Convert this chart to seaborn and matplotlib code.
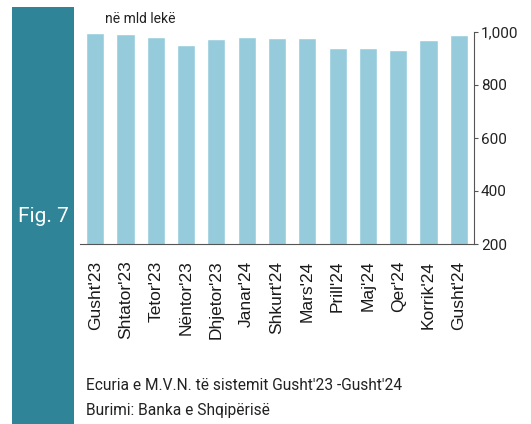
import matplotlib
matplotlib.use('Agg')
import matplotlib.pyplot as plt
import matplotlib.patches as mpatches
import numpy as np
import pandas as pd
import seaborn as sns

# Data (M.V.N. e sistemit, në mld lekë)
months = ["Gusht'23", "Shtator'23", "Tetor'23", "Nëntor'23", "Dhjetor'23", "Janar'24",
          "Shkurt'24", "Mars'24", "Prill'24", "Maj'24", "Qer'24", "Korrik'24", "Gusht'24"]
values = [997, 993, 981, 951, 975, 981, 977, 977, 940, 940, 932, 970, 990]
y_ticks = [200, 400, 600, 800, 1000]

sns.set_theme(style='white')
narrow = ['Roboto', 'DejaVu Sans']
plt.rcParams['font.family'] = ['Liberation Sans', 'DejaVu Sans']

fig = plt.figure(figsize=(5.31, 4.24), dpi=100, facecolor='white')

# teal side band
fig.patches.append(mpatches.Rectangle((12 / 531, 0), 62 / 531, 417 / 424,
                                      transform=fig.transFigure, facecolor='#2f8597',
                                      edgecolor='none', zorder=0))
fig.text(43 / 531, 1 - 216 / 424, 'Fig. 7', color='white', fontsize=15,
         family=narrow, ha='center', va='center')

ax = fig.add_axes([80 / 531, 180 / 424, 394 / 531, 212 / 424])
df = pd.DataFrame({'month': months, 'value': values})
sns.barplot(data=df, x='month', y='value', color='#96cbdc', saturation=1,
            width=0.6, ax=ax)

ax.set_ylim(200, 1000)
ax.set_xlim(-0.5, len(months) - 0.5)
ax.set_xlabel('')
ax.set_ylabel('')

# y axis on the right
ax.yaxis.tick_right()
ax.set_yticks(y_ticks)
ax.set_yticklabels([f'{v:,}' for v in y_ticks], family=narrow, fontsize=11, color='#222222')
ax.tick_params(axis='y', direction='out', length=3, width=0.8, color='#555555', pad=2)

# x labels at bar centres, ticks between bars
ax.set_xticks(range(len(months)))
ax.set_xticklabels(months, rotation=90, fontsize=12.5, color='#1a1a1a')
ax.tick_params(axis='x', length=0, pad=12)
ax.set_xticks(np.arange(-0.5, len(months)), minor=True)
ax.tick_params(axis='x', which='minor', direction='out', length=4, width=0.8, color='#555555')

for side in ['top', 'left']:
    ax.spines[side].set_visible(False)
for side in ['right', 'bottom']:
    ax.spines[side].set_color('#555555')
    ax.spines[side].set_linewidth(0.8)

fig.text(105 / 531, 1 - 19 / 424, 'në mld lekë', fontsize=10, family=narrow,
         color='#222222', va='center')
fig.text(86 / 531, 1 - 385 / 424, "Ecuria e M.V.N. të sistemit Gusht'23 -Gusht'24",
         fontsize=11.2, family=narrow, color='#222222', va='center')
fig.text(86 / 531, 1 - 410 / 424, 'Burimi: Banka e Shqipërisë',
         fontsize=11.2, family=narrow, color='#222222', va='center')

fig.savefig('out.png', dpi=100, facecolor='white')
